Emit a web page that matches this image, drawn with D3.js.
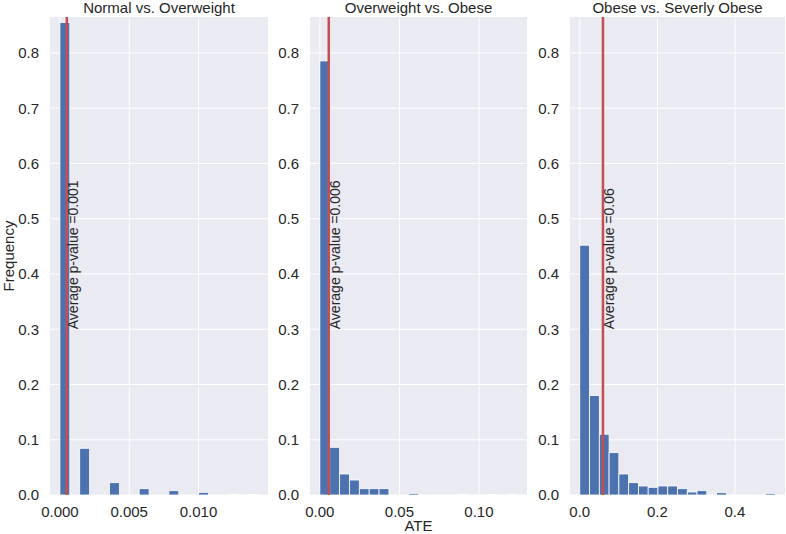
<!DOCTYPE html>
<html>
<head>
<meta charset="utf-8">
<script src="https://cdn.jsdelivr.net/npm/d3@7"></script>
<style>
  body { margin: 0; background: #fff; }
  text { font-family: "Liberation Sans", Arial, sans-serif; fill: #262626; }
</style>
</head>
<body>
<div id="chart"></div>
<script>
// panel titles
const titles = ["Normal vs. Overweight", "Overweight vs. Obese", "Obese vs. Severly Obese"];

// histogram range (20 equal bins between lo and hi)
const binLo = [0, 0, 0];
const binHi = [0.0143, 0.124, 0.504];

// bin frequencies
const freqNormal = [0.855, 0, 0.0845, 0, 0, 0.0223, 0, 0, 0.0114, 0, 0, 0.0078, 0, 0, 0.0048, 0, 0, 0.001, 0, 0.001];
const freqOverweight = [0.7855, 0.0863, 0.038, 0.0271, 0.0114, 0.0114, 0.0114, 0, 0, 0.003, 0, 0, 0, 0, 0.001, 0, 0, 0.001, 0, 0.001];
const freqObese = [0.452, 0.180, 0.110, 0.0766, 0.038, 0.0223, 0.0163, 0.0139, 0.0163, 0.0163, 0.0114, 0.0054, 0.0078, 0, 0.0042, 0, 0, 0, 0, 0.003];

// average p-value line positions and labels
const pValues = [0.0005, 0.0056, 0.0598];
const pLabels = ["0.001", "0.006", "0.06"];

// tick labels
const xTicks = [[0, 0.005, 0.010], [0, 0.05, 0.10], [0, 0.2, 0.4]];
const xFormats = [".3f", ".2f", ".1f"];
const yTicks = [0, 0.1, 0.2, 0.3, 0.4, 0.5, 0.6, 0.7, 0.8];

const freqs = [freqNormal, freqOverweight, freqObese];

const W = 786, H = 534;
const plotTop = 17, plotBottom = 495;
const panelX = [[50, 268], [310, 527], [570, 785]];

const svg = d3.select('#chart')
    .append('svg')
    .attr('width', W)
    .attr('height', H);

const y = d3.scaleLinear()
    .domain([0, 0.865])
    .range([plotBottom, plotTop]);

freqs.forEach((freq, i) => {
    const lo = binLo[i], hi = binHi[i];
    const pad = (hi - lo) * 0.05;
    const step = (hi - lo) / freq.length;

    const x = d3.scaleLinear()
        .domain([lo - pad, hi + pad])
        .range(panelX[i]);

    const g = svg.append('g');

    g.append('rect')
        .attr('x', panelX[i][0])
        .attr('y', plotTop)
        .attr('width', panelX[i][1] - panelX[i][0])
        .attr('height', plotBottom - plotTop)
        .attr('fill', '#eaeaf2');

    // grid
    g.selectAll('.ygrid')
        .data(yTicks)
        .join('line')
        .attr('x1', panelX[i][0])
        .attr('x2', panelX[i][1])
        .attr('y1', d => y(d))
        .attr('y2', d => y(d))
        .attr('stroke', '#fff')
        .attr('stroke-width', 1);

    g.selectAll('.xgrid')
        .data(xTicks[i])
        .join('line')
        .attr('x1', d => x(d))
        .attr('x2', d => x(d))
        .attr('y1', plotTop)
        .attr('y2', plotBottom)
        .attr('stroke', '#fff')
        .attr('stroke-width', 1);

    // bars
    const bins = freq.map((f, k) => ({ x0: lo + k * step, x1: lo + (k + 1) * step, f }));
    g.selectAll('.bar')
        .data(bins.filter(d => d.f > 0))
        .join('rect')
        .attr('x', d => x(d.x0))
        .attr('width', d => x(d.x1) - x(d.x0))
        .attr('y', d => y(d.f))
        .attr('height', d => y(0) - y(d.f))
        .attr('fill', '#4c72b0')
        .attr('stroke', '#fff')
        .attr('stroke-width', 0.8);

    // p-value line
    const px = x(pValues[i]);
    g.append('line')
        .attr('x1', px)
        .attr('x2', px)
        .attr('y1', plotTop)
        .attr('y2', plotBottom)
        .attr('stroke', '#c44e52')
        .attr('stroke-width', 2.5);

    g.append('text')
        .attr('transform', `translate(${px + 11}, ${y(0.3)}) rotate(-90)`)
        .attr('font-size', 14)
        .text('Average p-value =' + pLabels[i]);

    // tick labels
    g.selectAll('.xt')
        .data(xTicks[i])
        .join('text')
        .attr('x', d => x(d))
        .attr('y', 517)
        .attr('text-anchor', 'middle')
        .attr('font-size', 15)
        .text(d => d3.format(xFormats[i])(d));

    g.selectAll('.yt')
        .data(yTicks)
        .join('text')
        .attr('x', panelX[i][0] - 11)
        .attr('y', d => y(d))
        .attr('dy', '0.36em')
        .attr('text-anchor', 'end')
        .attr('font-size', 15)
        .text(d => d3.format(".1f")(d));

    g.append('text')
        .attr('x', (panelX[i][0] + panelX[i][1]) / 2)
        .attr('y', 13)
        .attr('text-anchor', 'middle')
        .attr('font-size', 15)
        .text(titles[i]);
});

svg.append('text')
    .attr('x', (panelX[1][0] + panelX[1][1]) / 2)
    .attr('y', 531)
    .attr('text-anchor', 'middle')
    .attr('font-size', 15)
    .text('ATE');

svg.append('text')
    .attr('transform', `translate(14, ${(plotTop + plotBottom) / 2}) rotate(-90)`)
    .attr('text-anchor', 'middle')
    .attr('font-size', 15)
    .text('Frequency');
</script>
</body>
</html>
